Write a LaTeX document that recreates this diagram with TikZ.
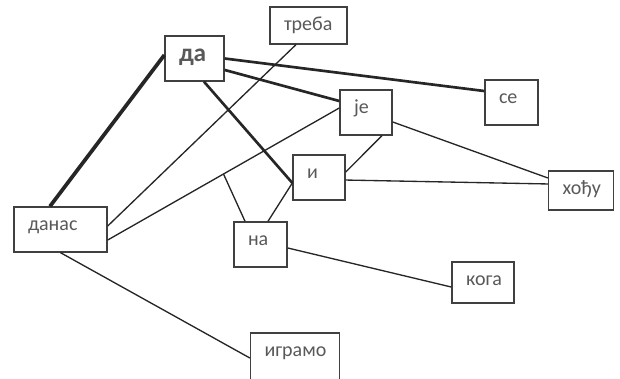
\documentclass[tikz,border=0pt]{standalone}
\usepackage{fontspec}
\setmainfont{Carlito}
\definecolor{wordtext}{HTML}{595959}
\definecolor{boxline}{HTML}{404040}
\definecolor{linkline}{HTML}{262626}
\newcommand{\wlabel}[2]{\makebox[#1][l]{#2}}
\begin{document}
\begin{tikzpicture}
	[x=0.75pt,y=-0.75pt,
	wbox/.style={draw=boxline,line width=1pt,fill=white,text=wordtext,
		inner xsep=10.5pt,inner ysep=0pt,text height=17.6pt,text depth=#1,
		font=\fontsize{15}{17}\selectfont},
	wbox/.default=16.15pt,
	link/.style={draw=linkline,line width=1pt},
	strong/.style={draw=linkline,line width=2pt},
	heavy/.style={draw=linkline,line width=2.8pt}]
	\useasboundingbox (0,0) rectangle (620,378);
	\clip (0,0) rectangle (620,378);
	% boxes
	\node[wbox,text height=19.5pt,text depth=14.25pt,
		font=\fontsize{19}{20}\bfseries] (da) at (194.5,58.5) {\wlabel{23.25pt}{да}};
	\node[wbox=10.15pt] (treba) at (308.5,25.5) {\wlabel{36.75pt}{треба}};
	\node[wbox] (je) at (366,112.5) {\wlabel{18pt}{је}};
	\node[wbox] (se) at (511.5,102.5) {\wlabel{18.75pt}{се}};
	\node[wbox] (i) at (319,177.5) {\wlabel{18pt}{и}};
	\node[wbox=11.65pt] (hocu) at (581,190.5) {\wlabel{27.75pt}{хођу}};
	\node[wbox] (danas) at (60.5,229.5) {\wlabel{48.75pt}{данас}};
	\node[wbox] (na) at (260.5,244.5) {\wlabel{18.75pt}{на}};
	\node[wbox=13.15pt] (koga) at (483,282.5) {\wlabel{25.5pt}{кога}};
	\node[wbox=19.9pt] (igramo) at (295,358) {\wlabel{45.75pt}{играмо}};
	% links
	\path[heavy]
	([xshift=-7.9pt]danas.north) edge ([yshift=2.6pt]da.west);
	\path[strong]
	(da.east) edge ([yshift=8.6pt]se.west)
	([yshift=-8.6pt]da.east) edge ([yshift=8.6pt]je.west)
	([xshift=7.1pt]da.south) edge ([yshift=-4.1pt]i.west);
	\draw[link] ([yshift=3.4pt]je.west) -- coordinate[pos=0.5] (jemid) ([yshift=-7.9pt]danas.east);
	\path[link]
	([xshift=-9.4pt]treba.south) edge ([yshift=2.6pt]danas.east)
	([xshift=-11.6pt]na.north) edge (jemid)
	([xshift=5.6pt]na.north) edge ([yshift=-4.1pt]i.west)
	([xshift=12pt]je.south) edge ([yshift=4.1pt]i.east)
	([yshift=-7.1pt]je.east) edge ([yshift=9.4pt]hocu.west)
	([yshift=-1.9pt]i.east) edge ([yshift=4.9pt]hocu.west)
	([yshift=-2.6pt]na.east) edge ([yshift=-3.4pt]koga.west)
	(danas.south) edge (igramo.west);
\end{tikzpicture}
\end{document}
